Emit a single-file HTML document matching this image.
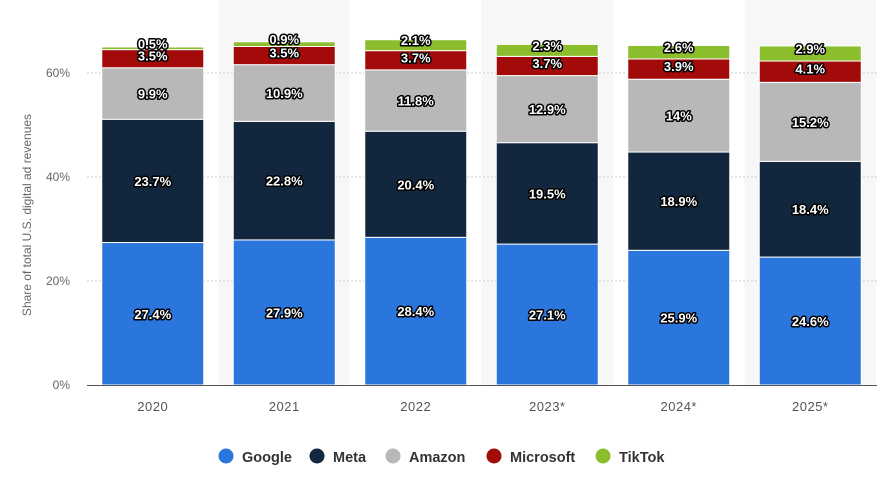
<!DOCTYPE html>
<html><head><meta charset="utf-8"><style>
body{margin:0;background:#fff;font-family:"Liberation Sans",sans-serif}
svg{display:block}
.lbl{font:bold 13px "Liberation Sans",sans-serif;fill:#fff;stroke:#000;stroke-width:3px;paint-order:stroke;stroke-linejoin:round}
</style></head><body>
<svg id="c" width="877" height="486"></svg>
<script>
const categories=["2020","2021","2022","2023*","2024*","2025*"];
const seriesNames=["Google","Meta","Amazon","Microsoft","TikTok"];
const colors=["#2a76dc","#12263d","#b8b8b8","#a30b0b","#8bbd2c"];
const google=[27.4,27.9,28.4,27.1,25.9,24.6];
const meta=[23.7,22.8,20.4,19.5,18.9,18.4];
const amazon=[9.9,10.9,11.8,12.9,14,15.2];
const microsoft=[3.5,3.5,3.7,3.7,3.9,4.1];
const tiktok=[0.5,0.9,2.1,2.3,2.6,2.9];
const yTicks=[0,20,40,60];
const series=[google,meta,amazon,microsoft,tiktok];
const NS="http://www.w3.org/2000/svg";
const svg=document.getElementById('c');
const x0=87,band=131.5,barW=102,y0=385,k=5.2;
const xb=i=>x0+i*band+(band-barW)/2;
const y=v=>y0-v*k;
function el(t,a,p){const e=document.createElementNS(NS,t);for(const n in a)e.setAttribute(n,a[n]);(p||svg).appendChild(e);return e;}
categories.forEach((c,i)=>{if(i%2===1){const r=el('rect',{x:x0+i*band,y:0,width:band,height:y0,fill:'#f7f7f7'});

}});
yTicks.forEach(t=>{
 if(t>0){const g=el('line',{x1:x0,x2:877,y1:y(t),y2:y(t),stroke:'#ccc','stroke-dasharray':'2,2'});
 
 }
 const tx=el('text',{x:70,y:y(t)+4,'text-anchor':'end','font-size':12,fill:'#666'});tx.textContent=t+'%';
 
 
});
const yt=el('text',{transform:'translate(31,215) rotate(-90)','text-anchor':'middle','font-size':12,fill:'#666'});
yt.textContent='Share of total U.S. digital ad revenues';


categories.forEach((c,i)=>{
 let acc=0;
 series.forEach((s,j)=>{
  const v=s[i];const r=el('rect',{x:xb(i),y:y(acc+v),width:barW,height:v*k,fill:colors[j],stroke:'#fff','stroke-width':1});
  
  
  acc+=v;
 });
 acc=0;
 series.forEach((s,j)=>{
  const v=s[i];const t=el('text',{x:xb(i)+barW/2,y:y(acc+v/2)+(j>=3?(j===4?0:2):5),'text-anchor':'middle',class:'lbl'});
  t.textContent=v+'%';
  
  
  acc+=v;
 });
 const xl=el('text',{x:x0+i*band+band/2,y:411,'text-anchor':'middle','font-size':13,fill:'#555','letter-spacing':'0.5'});
 xl.textContent=c;
 
 
});
const ax=el('line',{x1:x0,x2:877,y1:y0+0.5,y2:y0+0.5,stroke:'#555','stroke-width':1});


const lx=[226,317,393,494,603];
seriesNames.forEach((n,j)=>{
 const g=el('g',{});
 
 
 el('circle',{cx:lx[j],cy:456,r:7.5,fill:colors[j]},g);
 const t=el('text',{x:lx[j]+16,y:462,'font-size':14.5,'font-weight':'bold',fill:'#333'},g);t.textContent=n;
});
</script>
</body></html>
